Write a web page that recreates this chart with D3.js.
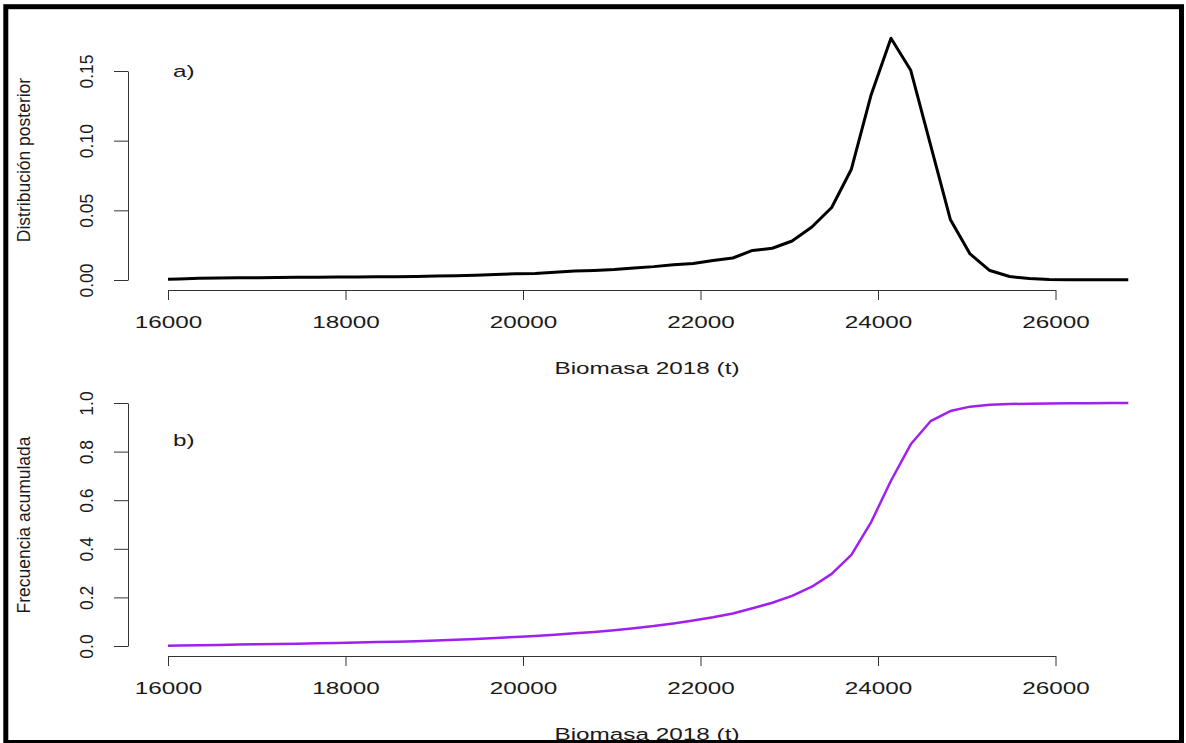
<!DOCTYPE html>
<html>
<head>
<meta charset="utf-8">
<script src="https://cdn.jsdelivr.net/npm/d3@7"></script>
<style>
  body { margin: 0; background: #fff; }
  text { font-family: "Liberation Sans", Arial, sans-serif; fill: #1a1a1a; }
</style>
</head>
<body>
<svg id="chart"></svg>
<script>
// Biomasa 2018 (t) grid
const biomasa = [16000, 16125, 16348, 16571, 16794, 17016, 17239, 17462, 17685, 17908,
  18130, 18353, 18576, 18799, 19022, 19244, 19467, 19690, 19913, 20136,
  20358, 20581, 20804, 21027, 21250, 21472, 21695, 21918, 22141, 22364,
  22586, 22809, 23032, 23255, 23478, 23700, 23923, 24146, 24369, 24592,
  24815, 25037, 25260, 25483, 25706, 25929, 26151, 26374, 26597, 26820];

// a) distribucion posterior
const posterior = [0.0005, 0.0007, 0.0012, 0.0015, 0.0016, 0.0017, 0.0018, 0.0019, 0.0020, 0.0021,
  0.0022, 0.0023, 0.0024, 0.0026, 0.0028, 0.0031, 0.0034, 0.0040, 0.0044, 0.0047,
  0.0055, 0.0064, 0.0069, 0.0075, 0.0086, 0.0096, 0.0110, 0.0119, 0.0140, 0.0158,
  0.0212, 0.0228, 0.0280, 0.0380, 0.0520, 0.0795, 0.1330, 0.1735, 0.1505, 0.0970,
  0.0435, 0.0187, 0.0068, 0.0025, 0.0010, 0.0004, 0.0002, 0.0001, 0.0001, 0.0001];

// b) frecuencia acumulada
const acumulada = [0.001, 0.002, 0.003, 0.004, 0.006, 0.007, 0.008, 0.009, 0.011, 0.012,
  0.014, 0.016, 0.018, 0.020, 0.023, 0.026, 0.029, 0.033, 0.037, 0.041,
  0.046, 0.052, 0.058, 0.065, 0.073, 0.082, 0.093, 0.105, 0.118, 0.134,
  0.155, 0.178, 0.206, 0.244, 0.297, 0.375, 0.510, 0.680, 0.830, 0.925,
  0.967, 0.985, 0.993, 0.996, 0.997, 0.998, 0.999, 0.999, 1.000, 1.000];

const xTicks = [16000, 18000, 20000, 22000, 24000, 26000];
const yTicksA = [0, 0.05, 0.10, 0.15];
const yTicksB = [0, 0.2, 0.4, 0.6, 0.8, 1.0];

const width = 1186;
const height = 743;
const stretch = 1.43; // horizontal text in the figure is widened

const svg = d3.select("#chart")
  .attr('width', width)
  .attr('height', height);

svg.append('rect')
  .attr('width', width)
  .attr('height', height)
  .attr('fill', '#fff');

const x = d3.scaleLinear().domain([16000, 26000]).range([168, 1055.5]);

function drawPanel(p) {
  const y = d3.scaleLinear().domain(p.yDomain).range(p.yRange);

  // x axis
  const gx = svg.append('g')
    .attr('transform', `translate(0,${p.axisY})`)
    .call(d3.axisBottom(x).tickValues(xTicks).tickSize(10).tickSizeOuter(0).tickFormat(d3.format('d')));
  gx.selectAll('text')
    .attr('y', 38).attr('dy', null)
    .attr('font-size', 17)
    .attr('transform', `scale(${stretch},1)`);

  // y axis
  const gy = svg.append('g')
    .attr('transform', 'translate(128,0)')
    .call(d3.axisLeft(y).tickValues(p.yTicks).tickSize(14).tickSizeOuter(0).tickFormat(d3.format(p.fmt)));
  gy.selectAll('text')
    .attr('x', null).attr('dy', null)
    .attr('text-anchor', 'middle')
    .attr('font-size', 17.5)
    .attr('transform', 'translate(-35,0) rotate(-90)');

  svg.selectAll('.domain, .tick line')
    .attr('stroke', '#333')
    .attr('stroke-width', 1);

  // curve
  const line = d3.line()
    .x((d, i) => x(biomasa[i]))
    .y(d => y(d));
  svg.append('path')
    .datum(p.values)
    .attr('fill', 'none')
    .attr('stroke', p.color)
    .attr('stroke-width', p.lw)
    .attr('stroke-linejoin', 'round')
    .attr('d', line);

  // panel letter
  svg.append('text')
    .attr('transform', `translate(173,${p.letterY}) scale(${stretch},1)`)
    .attr('font-size', 17)
    .text(p.letter);

  // axis titles
  svg.append('text')
    .attr('transform', `translate(647,${p.axisY + 84}) scale(${stretch},1)`)
    .attr('text-anchor', 'middle')
    .attr('font-size', 17)
    .text('Biomasa 2018 (t)');

  svg.append('text')
    .attr('transform', `translate(29.5,${p.labelY}) rotate(-90)`)
    .attr('text-anchor', 'middle')
    .attr('font-size', 17.5)
    .text(p.ylab);
}

drawPanel({
  yDomain: [0, 0.15], yRange: [280, 71], axisY: 290,
  yTicks: yTicksA, fmt: '.2f', values: posterior,
  color: '#000', lw: 3, letter: 'a)', letterY: 77,
  labelY: 160, ylab: 'Distribución posterior'
});

drawPanel({
  yDomain: [0, 1], yRange: [646, 403], axisY: 656,
  yTicks: yTicksB, fmt: '.1f', values: acumulada,
  color: '#a020f0', lw: 2.5, letter: 'b)', letterY: 446,
  labelY: 525, ylab: 'Frecuencia acumulada'
});

// frame around the figure
svg.append('rect')
  .attr('x', 5.8)
  .attr('y', 6.7)
  .attr('width', 1175.7)
  .attr('height', 735.8)
  .attr('fill', 'none')
  .attr('stroke', '#000')
  .attr('stroke-width', 5);
</script>
</body>
</html>
